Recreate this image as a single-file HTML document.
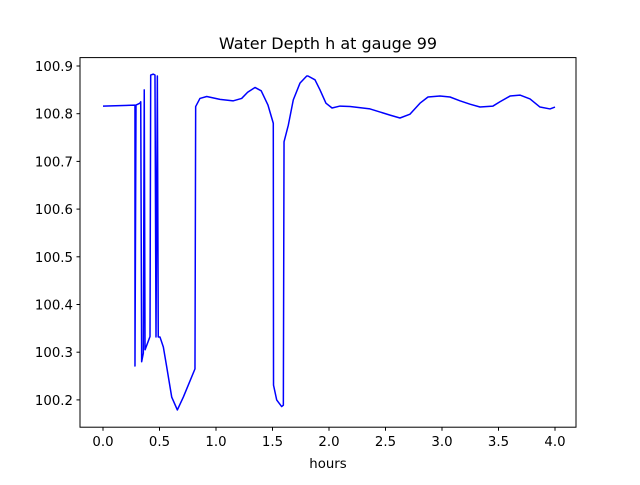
<!DOCTYPE html>
<html><head><meta charset="utf-8"><style>
body{margin:0;background:#fff}
svg text{font-family:"DejaVu Sans","Liberation Sans",sans-serif;fill:#000}
</style></head><body>
<svg width="640" height="480" viewBox="0 0 640 480">
<rect width="640" height="480" fill="#fff"/>
<g id="plot"></g>
<rect x="80" y="57.6" width="496" height="369.6" fill="none" stroke="#000" stroke-width="1"/>
<text x="328" y="49" font-size="16" text-anchor="middle">Water Depth h at gauge 99</text>
<text x="328" y="468" font-size="13.3" text-anchor="middle">hours</text>
<g id="xt"></g><g id="yt"></g>
</svg>
<script>
const hours=[0,0.283,0.283,0.292,0.327,0.334,0.342,0.357,0.365,0.372,0.416,0.422,0.445,0.46,0.469,0.481,0.489,0.504,0.534,0.564,0.608,0.658,0.711,0.814,0.82,0.858,0.918,1.035,1.153,1.227,1.28,1.345,1.40,1.46,1.507,1.509,1.537,1.581,1.596,1.602,1.64,1.684,1.743,1.803,1.814,1.876,1.92,1.973,2.027,2.097,2.186,2.363,2.54,2.628,2.717,2.805,2.876,2.982,3.071,3.159,3.248,3.336,3.451,3.513,3.602,3.69,3.779,3.867,3.956,4.0];
const depth=[100.816,100.818,100.271,100.818,100.822,100.825,100.280,100.298,100.850,100.305,100.333,100.881,100.883,100.881,100.332,100.879,100.332,100.332,100.311,100.269,100.206,100.179,100.206,100.265,100.815,100.832,100.836,100.830,100.827,100.832,100.845,100.855,100.848,100.818,100.780,100.231,100.200,100.186,100.189,100.741,100.776,100.829,100.864,100.879,100.879,100.871,100.850,100.822,100.812,100.816,100.815,100.810,100.797,100.791,100.799,100.822,100.835,100.837,100.835,100.827,100.820,100.814,100.816,100.825,100.837,100.839,100.831,100.814,100.810,100.814];
const xTicks=["0.0","0.5","1.0","1.5","2.0","2.5","3.0","3.5","4.0"];
const yTicks=["100.2","100.3","100.4","100.5","100.6","100.7","100.8","100.9"];
const NS="http://www.w3.org/2000/svg";
function xs(h){return 103+h*113;}
function ys(v){return 66+(100.9-v)*477;}
const n=Math.min(hours.length,depth.length);
let pts=[];
for(let i=0;i<n;i++)pts.push(xs(hours[i]).toFixed(2)+","+ys(depth[i]).toFixed(2));
const pl=document.createElementNS(NS,"polyline");
pl.setAttribute("points",pts.join(" "));
pl.setAttribute("fill","none");pl.setAttribute("stroke","#0000ff");
pl.setAttribute("stroke-width","1.5");pl.setAttribute("stroke-linejoin","round");


document.getElementById("plot").appendChild(pl);
const xt=document.getElementById("xt");
xTicks.forEach(t=>{const x=xs(parseFloat(t));
 const l=document.createElementNS(NS,"line");
 l.setAttribute("x1",x);l.setAttribute("x2",x);l.setAttribute("y1",427.2);l.setAttribute("y2",430.7);l.setAttribute("stroke","#000");
 
 
 xt.appendChild(l);
 const tx=document.createElementNS(NS,"text");
 tx.setAttribute("x",x);tx.setAttribute("y",446);tx.setAttribute("font-size","13.3");tx.setAttribute("text-anchor","middle");tx.textContent=t;
 
 
 xt.appendChild(tx);});
const yt=document.getElementById("yt");
yTicks.forEach(t=>{const y=ys(parseFloat(t));
 const l=document.createElementNS(NS,"line");
 l.setAttribute("x1",76.5);l.setAttribute("x2",80);l.setAttribute("y1",y);l.setAttribute("y2",y);l.setAttribute("stroke","#000");
 
 
 yt.appendChild(l);
 const tx=document.createElementNS(NS,"text");
 tx.setAttribute("x",73);tx.setAttribute("y",y+5);tx.setAttribute("font-size","13.3");tx.setAttribute("text-anchor","end");tx.textContent=t;
 
 
 yt.appendChild(tx);});
</script>
</body></html>
